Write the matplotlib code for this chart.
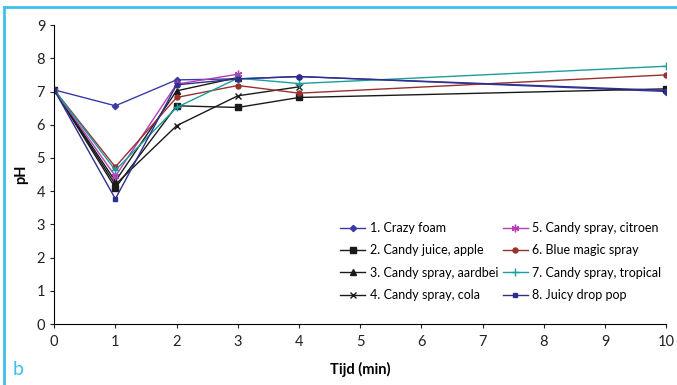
import matplotlib.pyplot as plt
import numpy as np

plt.rcParams['font.family'] = ['Lato', 'DejaVu Sans']

tijd = [0, 1, 2, 3, 4, 10]
nan = np.nan

# pH per product, NaN where not measured
crazy_foam = [7.05, 6.57, 7.35, 7.38, 7.45, 7.0]
candy_juice_apple = [7.05, 4.1, 6.57, 6.52, 6.82, 7.08]
candy_spray_aardbei = [7.05, 4.3, 7.02, 7.42, nan, nan]
candy_spray_cola = [7.05, 4.2, 5.97, 6.87, 7.14, nan]
candy_spray_citroen = [7.05, 4.45, 7.22, 7.52, nan, nan]
blue_magic_spray = [7.05, 4.73, 6.82, 7.18, 6.95, 7.5]
candy_spray_tropical = [7.05, 4.63, 6.52, 7.4, 7.24, 7.76]
juicy_drop_pop = [7.05, 3.77, 7.2, 7.38, 7.45, 7.03]

labels = ['1. Crazy foam', '2. Candy juice, apple', '3. Candy spray, aardbei',
          '4. Candy spray, cola', '5. Candy spray, citroen', '6. Blue magic spray',
          '7. Candy spray, tropical', '8. Juicy drop pop']
series = [crazy_foam, candy_juice_apple, candy_spray_aardbei, candy_spray_cola,
          candy_spray_citroen, blue_magic_spray, candy_spray_tropical, juicy_drop_pop]

styles = [
    dict(color='#3b3ba6', marker='D', ms=3.2),
    dict(color='#1a1a1a', marker='s', ms=5),
    dict(color='#1a1a1a', marker='^', ms=4.2),
    dict(color='#1a1a1a', marker='x', ms=4.5, mew=1),
    dict(color='#b540b5', marker=(6, 2, 0), ms=5.5, mew=1),
    dict(color='#993030', marker='o', ms=3.6),
    dict(color='#1a9e9e', marker='+', ms=5.5, mew=1),
    dict(color='#2e2e8c', marker='s', ms=3.2),
]

fig = plt.figure(figsize=(6.77, 3.85), dpi=100)
ax = fig.add_axes([0.08, 0.158, 0.904, 0.777])

for y, lab, st in zip(series, labels, styles):
    ax.plot(tijd, y, lw=1, label=lab, **st)

ax.set_xlim(0, 10)
ax.set_ylim(0, 9)
ax.set_xticks(range(0, 11))
ax.set_yticks(range(0, 10))
ax.spines['top'].set_visible(False)
ax.spines['right'].set_visible(False)
ax.tick_params(direction='out', length=3, labelsize=10.5, colors='#222222')
ax.tick_params(axis='x', pad=5)
ax.set_xlabel('Tijd (min)', fontweight='bold', fontsize=10.5, labelpad=9)
ax.set_ylabel('pH', fontweight='bold', fontsize=10.5, labelpad=6)

ax.legend(ncol=2, frameon=False, fontsize=9, loc='upper left',
          bbox_to_anchor=(0.486, 0.452), bbox_transform=fig.transFigure,
          handlelength=2.0, handletextpad=0.35, columnspacing=0.35, labelspacing=0.82)

# cyan frame and panel letter
fig.add_artist(plt.Line2D([0.006, 0.006], [0, 0.982], color='#3fc0ea', lw=2, transform=fig.transFigure))
fig.add_artist(plt.Line2D([0.006, 1], [0.982, 0.982], color='#3fc0ea', lw=2, transform=fig.transFigure))
fig.text(0.018, 0.025, 'b', color='#3fc0ea', fontsize=14)

fig.savefig('out.png', dpi=100)
